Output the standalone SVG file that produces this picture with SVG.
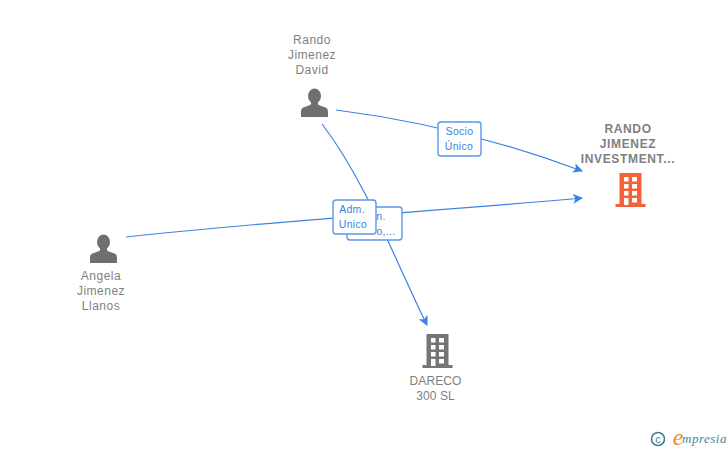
<svg xmlns="http://www.w3.org/2000/svg" width="728" height="450" viewBox="0 0 728 450">
<style>
text{font-family:"Liberation Sans",Arial,sans-serif}
.n{font-size:12px;fill:#7f7f7f;text-anchor:middle;letter-spacing:.5px}
.b{font-weight:700;letter-spacing:.65px}
.t{letter-spacing:.1px}
.l{font-size:10.500px;fill:#3b82e0;text-anchor:middle;letter-spacing:.3px}
.c{fill:none;stroke:#3b82e6;stroke-width:1.2;marker-end:url(#a)}
.r{fill:#fff;stroke:#5a97ea;stroke-width:1.4}
.p{fill:#6f6f6f}
</style>
<defs>
<marker id="a" viewBox="0 0 10 10" refX="9" refY="5" markerWidth="10" markerHeight="10" markerUnits="userSpaceOnUse" orient="auto"><path d="M0 0L10 5L0 10L2.500 5Z" fill="#3b82e6"/></marker>
<g id="person"><ellipse cx="0" cy="-7" rx="6.500" ry="7.500"/><path d="M-3.500-3h7v4c0 1.500 6 2.500 8.500 4 1.800 1.200 1.500 4 1.500 9h-27c0-5-.3-7.800 1.500-9 2.500-1.500 8.500-2.500 8.500-4z"/></g>
<g id="bld"><path fill-rule="evenodd" d="M-11-17h22V14h4v3h-30v-3h4zM-6.500-13v4.500h4.500v-4.500zM1.500-13v4.500h5v-4.500zM-6.500-6v4.500h4.500v-4.500zM1.500-6v4.500h5v-4.500zM-6.500 1v4.500h4.500v-4.500zM1.500 1v4.500h5v-4.500zM-6.500 8v7h4.500V8zM1.500 8v4.500h5V8z"/></g>
</defs>
<g id="connectors">
<path class="c" d="M336 110C400 118 480 133 582 171"/>
<path class="c" d="M126 237C290 219 430 212 582 198"/>
<path class="c" d="M322 124C365 180 395 260 427 325"/>
</g>
<g id="label-adm-2"><rect class="r" x="347" y="207" width="55" height="33" rx="3"/><text class="l" x="381" y="220">n.</text><text class="l" x="386" y="235">o,...</text></g>
<g id="label-adm-1"><rect class="r" x="333" y="200" width="43" height="34" rx="3"/><text class="l" x="352" y="213">Adm.</text><text class="l" x="353" y="228">Unico</text></g>
<g id="label-socio"><rect class="r" x="438" y="122" width="43" height="34" rx="3"/><text class="l" x="459.500" y="135">Socio</text><text class="l" x="459" y="150">Único</text></g>
<g id="node-rando-david"><text class="n" x="312" y="44">Rando</text><text class="n" x="312" y="59">Jimenez</text><text class="n" x="312" y="74">David</text><use href="#person" x="314.500" y="103" class="p"/></g>
<g id="node-angela"><use href="#person" x="103.500" y="249" class="p"/><text class="n" x="101" y="280">Angela</text><text class="n" x="101" y="295">Jimenez</text><text class="n" x="101" y="310">Llanos</text></g>
<g id="node-rando-investment"><text class="n b" x="628" y="133">RANDO</text><text class="n b" x="628" y="148">JIMENEZ</text><text class="n b" x="628" y="163">INVESTMENT...</text><use href="#bld" x="630.500" y="190" fill="#f4623a"/></g>
<g id="node-dareco"><use href="#bld" x="437.500" y="351" fill="#757575"/><text class="n t" x="435.500" y="385">DARECO</text><text class="n t" x="435.500" y="400">300 SL</text></g>
<g id="credit"><circle cx="658" cy="439" r="6.500" fill="none" stroke="#3f7f93" stroke-width="1.600"/><text x="658" y="442.500" font-size="11" fill="#3f7f93" text-anchor="middle">c</text><text x="678" y="445" font-size="24" font-style="italic" fill="#f08a1d" text-anchor="middle" style="font-family:'Liberation Serif',serif">e</text><text x="704.500" y="443" font-size="13" font-style="italic" fill="#3f8a9c" text-anchor="middle" style="font-family:'Liberation Serif',serif" letter-spacing=".5">mpresia</text></g>
</svg>
